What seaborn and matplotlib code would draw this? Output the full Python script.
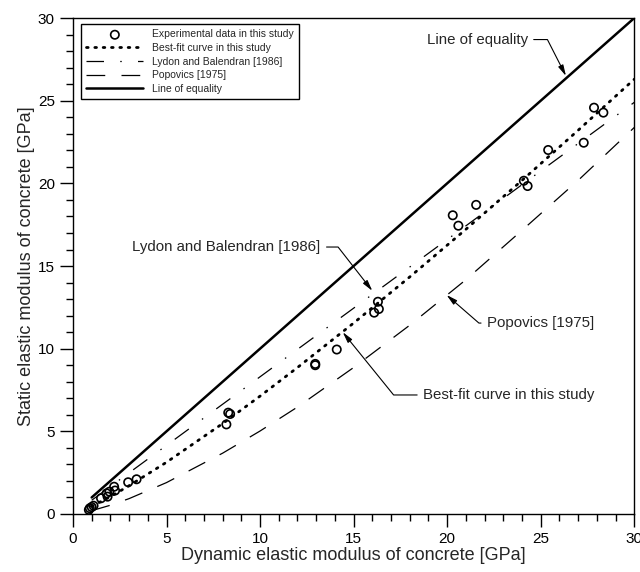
import matplotlib
matplotlib.use("Agg")
import matplotlib.pyplot as plt
from matplotlib.ticker import MultipleLocator
import seaborn as sns
import pandas as pd

# Dados (GPa)
exp_dyn = [0.85, 0.9, 1.0, 1.1, 1.5, 1.8, 1.85, 1.95, 2.2, 2.25, 2.95, 3.4,
           8.2, 8.3, 8.4, 12.95, 12.95, 14.1, 16.1, 16.3, 16.35,
           20.3, 20.6, 21.55, 24.1, 24.3, 25.4, 27.3, 27.85, 28.35]
exp_static = [0.25, 0.35, 0.42, 0.5, 0.95, 1.25, 1.05, 1.35, 1.65, 1.42, 1.92, 2.1,
              5.42, 6.13, 6.05, 9.08, 9.0, 9.95, 12.18, 12.84, 12.4,
              18.07, 17.44, 18.7, 20.16, 19.84, 22.02, 22.46, 24.58, 24.28]

curve_x = [1, 2, 3, 5, 8, 10, 12, 15, 18, 21, 24, 27, 30]
bestfit_y = [0.46, 1.05, 1.71, 3.13, 5.47, 7.13, 8.86, 11.55, 14.34, 17.22, 20.18, 23.21, 26.3]
popovics_y = [0.2, 0.53, 0.93, 1.9, 3.68, 5.02, 6.47, 8.86, 11.42, 14.17, 17.16, 20.18, 23.38]
lydon_x = [1, 30]
lydon_y = [0.83, 24.9]
equal_x = [1, 30]
equal_y = [1, 30]

labels = ["Experimental data in this study", "Best-fit curve in this study",
          "Lydon and Balendran [1986]", "Popovics [1975]", "Line of equality"]

sns.set_theme(style="ticks")
plt.rcParams["font.family"] = ["Liberation Sans", "DejaVu Sans"]

fig = plt.figure(figsize=(6.4, 5.72), dpi=100)
ax = fig.add_axes([0.114, 0.1014, 0.877, 0.867])

sns.scatterplot(x=exp_dyn, y=exp_static, ax=ax, marker="o", s=36,
                label=labels[0], zorder=5)
pts = ax.collections[-1]
pts.set_facecolor("none")
pts.set_edgecolor("black")
pts.set_linewidth(1.2)

sns.lineplot(x=curve_x, y=bestfit_y, ax=ax, color="black", lw=2.0,
             linestyle=(0, (0.6, 2.4)), dash_capstyle="round", label=labels[1])
sns.lineplot(x=lydon_x, y=lydon_y, ax=ax, color="black", lw=0.9,
             linestyle=(0, (14, 13, 1.2, 13)), label=labels[2])
sns.lineplot(x=curve_x, y=popovics_y, ax=ax, color="black", lw=0.9,
             linestyle=(0, (15, 13)), label=labels[3])
sns.lineplot(x=equal_x, y=equal_y, ax=ax, color="black", lw=1.8,
             label=labels[4])

ax.set_xlim(0, 30)
ax.set_ylim(0, 30)
ax.xaxis.set_major_locator(MultipleLocator(5))
ax.xaxis.set_minor_locator(MultipleLocator(1))
ax.yaxis.set_major_locator(MultipleLocator(5))
ax.yaxis.set_minor_locator(MultipleLocator(1))
ax.tick_params(which="both", direction="out", color="black", width=1,
               labelsize=11, labelcolor="black")
ax.tick_params(which="major", length=9.5)
ax.tick_params(which="minor", length=5)
for sp in ax.spines.values():
    sp.set_color("black")
    sp.set_linewidth(1)

ax.set_xlabel("Dynamic elastic modulus of concrete [GPa]", fontsize=13, labelpad=1)
ax.set_ylabel("Static elastic modulus of concrete [GPa]", fontsize=13, labelpad=2)

# legenda na ordem original
h, l = ax.get_legend_handles_labels()
order = [l.index(s) for s in labels]
leg = ax.legend([h[i] for i in order], [l[i] for i in order], loc="upper left",
                bbox_to_anchor=(0.005, 0.998), fontsize=7.5, handlelength=5.5,
                fancybox=False, frameon=True, edgecolor="black", framealpha=1,
                borderpad=0.5, labelspacing=0.35, scatterpoints=1)
leg.get_frame().set_linewidth(1)

# anotações com setas
notes = [
    ("Line of equality", (26.35, 26.5), (21.6, 28.7), 117),
    ("Lydon and Balendran [1986]", (16.0, 13.5), (8.2, 16.15), 128),
    ("Best-fit curve in this study", (14.42, 11.0), (23.3, 7.2), -51),
    ("Popovics [1975]", (19.97, 13.25), (25.0, 11.55), -41),
]
for txt, xy, xytext, angb in notes:
    ax.annotate(txt, xy=xy, xytext=xytext, fontsize=10.8, ha="center", va="center",
                arrowprops=dict(arrowstyle="-|>,head_length=0.6,head_width=0.15",
                                color="black", lw=0.8, shrinkA=2, shrinkB=0,
                                connectionstyle=f"angle,angleA=0,angleB={angb},rad=0"))

fig.savefig("out.png", dpi=100)
